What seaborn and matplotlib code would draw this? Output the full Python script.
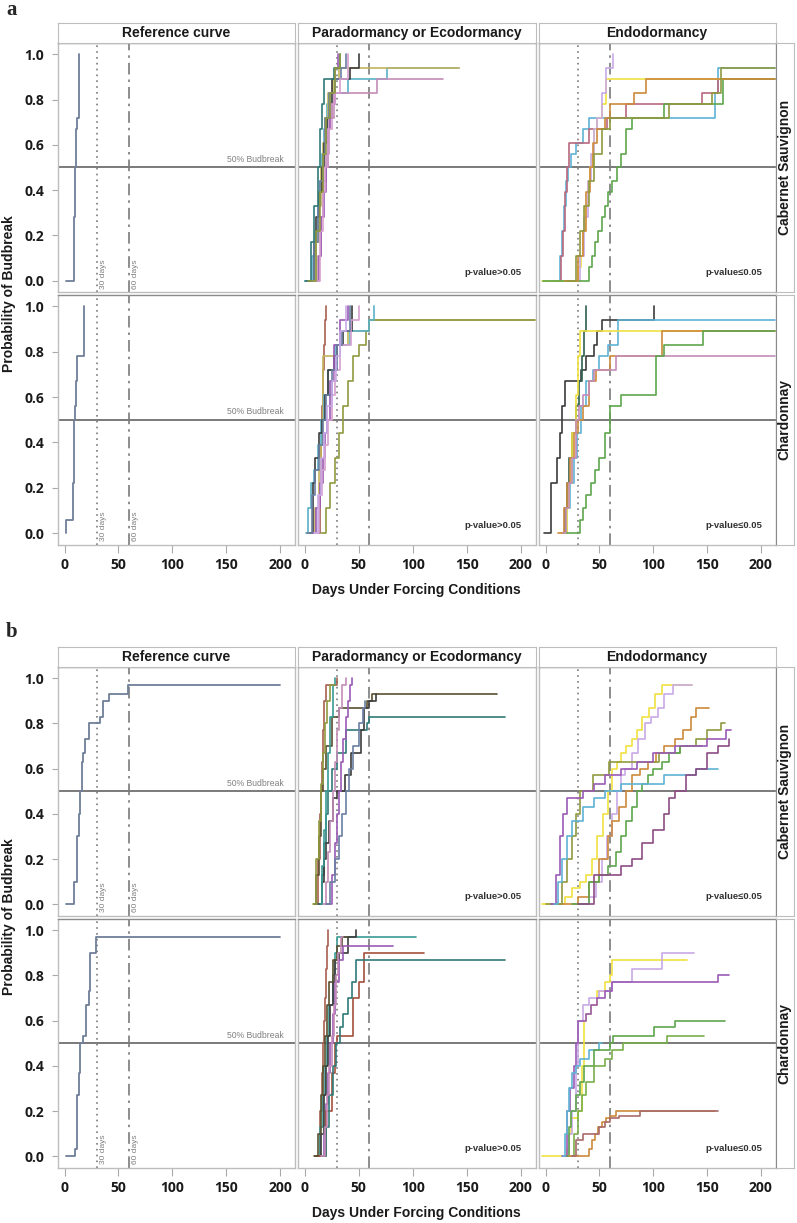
import pandas as pd
import seaborn as sns
import matplotlib.pyplot as plt

sns.set_style("white")
plt.rcParams["font.family"] = ["Liberation Sans", "DejaVu Sans"]

# ---- data: (curve, days, cumulative probability of budbreak) ----
# panel a
a_ref_cs = [("ref", [1, 9, 10, 11, 11.5, 13], [0, 0.28, 0.5, 0.67, 0.72, 1.0])]
a_ref_ch = [("ref", [1, 1.5, 7.5, 8, 8.5, 9, 10, 10.5, 11, 12, 18],
             [0, 0.06, 0.17, 0.22, 0.39, 0.5, 0.56, 0.61, 0.67, 0.78, 1.0])]

a_para_cs = [
    ("teal", [0, 7, 10, 12, 14, 16, 18, 21, 24, 40, 76, 143],
     [0, 0.11, 0.22, 0.33, 0.44, 0.56, 0.67, 0.78, 0.83, 0.89, 0.94, 0.94]),
    ("khaki", [2, 11, 13, 15, 17, 19, 22, 26, 32, 143],
     [0, 0.17, 0.33, 0.5, 0.61, 0.72, 0.83, 0.89, 0.94, 0.94]),
    ("mauve", [6, 12, 15, 17, 20, 23, 27, 67, 128],
     [0, 0.11, 0.28, 0.44, 0.56, 0.72, 0.83, 0.89, 0.89]),
    ("dark", [4, 9, 11, 13, 16, 18, 21, 25, 42, 50],
     [0, 0.17, 0.28, 0.39, 0.5, 0.61, 0.72, 0.89, 0.94, 1.0]),
    ("purple", [8, 13, 15, 18, 20, 22, 24, 28, 31],
     [0, 0.11, 0.28, 0.39, 0.5, 0.67, 0.78, 0.94, 1.0]),
    ("slate", [1, 9, 12, 14, 17, 19, 23, 28, 34, 38],
     [0, 0.17, 0.33, 0.44, 0.56, 0.72, 0.83, 0.89, 0.94, 1.0]),
    ("pink", [9, 14, 17, 19, 22, 25, 28, 33, 40],
     [0, 0.22, 0.39, 0.5, 0.67, 0.78, 0.83, 0.89, 1.0]),
    ("darkteal", [0, 6, 9, 12, 14, 16, 18, 27, 33],
     [0, 0.17, 0.33, 0.5, 0.67, 0.78, 0.89, 0.94, 1.0]),
    ("olive", [3, 11, 14, 17, 20, 24, 28, 33],
     [0, 0.22, 0.39, 0.56, 0.72, 0.83, 0.94, 1.0]),
]

a_endo_cs = [
    ("blue", [8, 13, 15, 17, 19, 21, 24, 28, 35, 40, 157, 160, 213],
     [0, 0.11, 0.22, 0.33, 0.44, 0.5, 0.56, 0.61, 0.67, 0.72, 0.83, 0.94, 0.94]),
    ("rose", [10, 14, 16, 18, 20, 22, 40, 57, 75, 145, 160, 213],
     [0, 0.11, 0.22, 0.39, 0.5, 0.61, 0.67, 0.72, 0.78, 0.83, 0.89, 0.89]),
    ("yellow", [-3, 30, 33, 35, 37, 39, 41, 43, 45, 48, 52, 56, 213],
     [0, 0.06, 0.11, 0.22, 0.33, 0.44, 0.5, 0.56, 0.67, 0.72, 0.78, 0.89, 0.89]),
    ("lavender", [25, 32, 36, 39, 42, 45, 48, 52, 56, 60, 63],
     [0, 0.11, 0.28, 0.44, 0.56, 0.67, 0.72, 0.83, 0.94, 0.94, 1.0]),
    ("green", [-2, 40, 43, 46, 49, 52, 55, 58, 62, 66, 70, 75, 80, 110, 165, 213],
     [0, 0.06, 0.11, 0.17, 0.22, 0.28, 0.33, 0.39, 0.44, 0.5, 0.56, 0.67, 0.72, 0.78, 0.89, 0.89]),
    ("orange", [18, 30, 35, 38, 41, 44, 48, 55, 60, 82, 93, 213],
     [0, 0.11, 0.22, 0.39, 0.5, 0.61, 0.67, 0.72, 0.78, 0.83, 0.89, 0.89]),
    ("olive", [20, 28, 32, 36, 40, 45, 52, 60, 115, 155, 163, 213],
     [0, 0.11, 0.22, 0.33, 0.44, 0.56, 0.67, 0.72, 0.78, 0.83, 0.94, 0.94]),
]

a_para_ch = [
    ("brown", [10, 14, 15, 16, 17, 18, 19, 20],
     [0, 0.22, 0.39, 0.56, 0.72, 0.83, 0.94, 1.0]),
    ("khaki", [3, 10, 13, 15, 16, 17, 26, 30, 40, 55, 60, 213],
     [0, 0.11, 0.28, 0.39, 0.5, 0.78, 0.78, 0.83, 0.89, 0.89, 0.94, 0.94]),
    ("olive", [15, 20, 24, 28, 32, 36, 40, 45, 50, 57, 60, 213],
     [0, 0.11, 0.22, 0.33, 0.44, 0.56, 0.67, 0.78, 0.83, 0.89, 0.94, 0.94]),
    ("teal", [1, 3, 6, 9, 12, 15, 18, 22, 28, 42, 60, 64],
     [0, 0.11, 0.22, 0.28, 0.39, 0.5, 0.61, 0.72, 0.83, 0.89, 0.94, 1.0]),
    ("dark", [5, 8, 10, 13, 16, 19, 22, 27, 30, 36, 44],
     [0, 0.22, 0.33, 0.44, 0.5, 0.61, 0.72, 0.78, 0.83, 0.89, 1.0]),
    ("purple", [8, 11, 14, 17, 19, 21, 24, 27, 33, 40],
     [0, 0.11, 0.22, 0.33, 0.44, 0.5, 0.67, 0.83, 0.94, 1.0]),
    ("pink", [10, 13, 16, 19, 22, 25, 28, 33, 43, 50],
     [0, 0.17, 0.28, 0.39, 0.5, 0.61, 0.72, 0.83, 0.94, 1.0]),
    ("slate", [2, 7, 10, 13, 17, 20, 25, 30, 35, 42],
     [0, 0.17, 0.28, 0.39, 0.5, 0.61, 0.72, 0.83, 0.89, 1.0]),
    ("lavender", [9, 12, 15, 18, 21, 25, 29, 33, 38],
     [0, 0.17, 0.33, 0.44, 0.56, 0.67, 0.78, 0.89, 1.0]),
]

a_endo_ch = [
    ("dark", [-1, 5, 11, 13, 15, 18, 33, 38, 45, 48, 52, 56, 101],
     [0, 0.22, 0.33, 0.44, 0.56, 0.67, 0.72, 0.78, 0.83, 0.89, 0.94, 0.94, 1.0]),
    ("darkgreen", [15, 18, 20, 22, 25, 28, 31, 34, 36, 38],
     [0, 0.11, 0.22, 0.33, 0.44, 0.56, 0.67, 0.78, 0.89, 1.0]),
    ("blue", [17, 20, 23, 26, 29, 33, 38, 44, 50, 58, 67, 213],
     [0, 0.11, 0.22, 0.33, 0.44, 0.56, 0.67, 0.72, 0.78, 0.83, 0.94, 0.94]),
    ("yellow", [14, 20, 22, 25, 28, 30, 32, 213],
     [0, 0.11, 0.22, 0.44, 0.61, 0.78, 0.89, 0.89]),
    ("orange", [12, 17, 20, 23, 26, 30, 35, 40, 47, 60, 73, 108, 213],
     [0, 0.11, 0.22, 0.33, 0.44, 0.5, 0.56, 0.67, 0.72, 0.78, 0.78, 0.89, 0.89]),
    ("mauve", [16, 19, 22, 25, 28, 31, 35, 40, 45, 52, 65, 213],
     [0, 0.11, 0.22, 0.33, 0.5, 0.56, 0.61, 0.67, 0.72, 0.72, 0.78, 0.78]),
    ("green", [20, 32, 35, 38, 42, 46, 50, 55, 60, 70, 103, 110, 146, 213],
     [0, 0.06, 0.11, 0.17, 0.22, 0.28, 0.33, 0.44, 0.56, 0.61, 0.78, 0.83, 0.89, 0.89]),
]

# panel b
b_ref_cs = [("ref", [1, 9, 12, 13, 14, 16, 17, 19, 23, 33, 36, 41, 59, 200],
             [0, 0.1, 0.3, 0.4, 0.5, 0.63, 0.67, 0.73, 0.8, 0.83, 0.9, 0.93, 0.97, 0.97])]
b_ref_ch = [("ref", [1, 10, 12, 13, 14, 17, 20, 23, 24, 29, 200],
             [0, 0.03, 0.27, 0.37, 0.5, 0.53, 0.67, 0.73, 0.9, 0.97, 0.97])]

b_para_cs = [
    ("brown", [9, 12, 14, 15, 16, 17, 18, 20, 26, 30],
     [0, 0.2, 0.4, 0.5, 0.63, 0.77, 0.9, 0.97, 0.97, 1.0]),
    ("darkolive", [9, 11, 13, 15, 17, 20, 25, 32, 50, 58, 62, 178],
     [0, 0.13, 0.3, 0.5, 0.6, 0.7, 0.83, 0.87, 0.87, 0.9, 0.93, 0.93]),
    ("darkteal", [12, 16, 18, 20, 22, 25, 30, 38, 52, 58, 60, 185],
     [0, 0.13, 0.27, 0.4, 0.5, 0.6, 0.67, 0.77, 0.77, 0.8, 0.83, 0.83]),
    ("dark", [13, 16, 18, 20, 23, 26, 30, 37, 43, 52, 55, 60, 66],
     [0, 0.1, 0.2, 0.27, 0.37, 0.47, 0.5, 0.57, 0.67, 0.77, 0.87, 0.9, 0.93]),
    ("purple", [20, 25, 28, 30, 32, 34, 36, 38, 40, 42, 44],
     [0, 0.13, 0.27, 0.4, 0.5, 0.63, 0.73, 0.83, 0.9, 0.97, 1.0]),
    ("mauve", [17, 20, 22, 24, 26, 28, 30, 32, 35, 38],
     [0, 0.1, 0.23, 0.37, 0.5, 0.63, 0.77, 0.87, 0.97, 1.0]),
    ("slate", [20, 24, 28, 32, 35, 38, 41, 45, 50, 54, 56],
     [0, 0.1, 0.2, 0.3, 0.4, 0.5, 0.6, 0.7, 0.8, 0.87, 0.9]),
    ("seagreen", [14, 16, 18, 20, 22, 24, 26, 28],
     [0, 0.17, 0.33, 0.5, 0.67, 0.83, 0.97, 1.0]),
    ("olive", [8, 11, 13, 15, 17, 19, 21, 24, 28],
     [0, 0.2, 0.37, 0.53, 0.67, 0.8, 0.9, 0.97, 0.97]),
]

b_endo_cs = [
    ("yellow", [-3, 18, 25, 32, 38, 43, 48, 53, 58, 62, 66, 70, 75, 80, 85, 90, 96, 102, 108, 136],
     [0, 0.03, 0.07, 0.1, 0.13, 0.2, 0.3, 0.4, 0.5, 0.6, 0.63, 0.67, 0.7, 0.73, 0.77, 0.83, 0.87, 0.93, 0.97, 0.97]),
    ("lavender", [30, 40, 47, 52, 57, 62, 66, 70, 74, 80, 86, 92, 98, 104, 110, 118, 136],
     [0, 0.03, 0.1, 0.2, 0.3, 0.4, 0.5, 0.57, 0.6, 0.67, 0.73, 0.8, 0.83, 0.87, 0.93, 0.97, 0.97]),
    ("orange", [5, 30, 40, 50, 58, 62, 68, 75, 80, 88, 95, 103, 110, 120, 128, 135, 140, 152],
     [0, 0.03, 0.1, 0.2, 0.3, 0.37, 0.43, 0.5, 0.57, 0.6, 0.63, 0.67, 0.7, 0.73, 0.77, 0.83, 0.87, 0.87]),
    ("olive", [0, 15, 20, 25, 28, 32, 44, 59, 105, 125, 140, 150, 163, 167],
     [0, 0.1, 0.2, 0.3, 0.4, 0.5, 0.57, 0.63, 0.67, 0.7, 0.73, 0.77, 0.8, 0.8]),
    ("green", [25, 40, 50, 58, 65, 70, 75, 80, 85, 90, 95, 100, 108, 115, 125, 145],
     [0, 0.1, 0.13, 0.17, 0.23, 0.3, 0.37, 0.43, 0.5, 0.53, 0.57, 0.6, 0.63, 0.67, 0.7, 0.7]),
    ("purple", [5, 10, 13, 16, 20, 35, 45, 55, 70, 85, 100, 120, 135, 150, 160, 168, 172],
     [0, 0.13, 0.3, 0.4, 0.47, 0.5, 0.53, 0.57, 0.6, 0.63, 0.67, 0.7, 0.7, 0.73, 0.73, 0.77, 0.77]),
    ("blue", [8, 12, 15, 20, 25, 35, 45, 55, 70, 90, 110, 130, 140, 160],
     [0, 0.1, 0.2, 0.3, 0.37, 0.43, 0.47, 0.5, 0.53, 0.53, 0.57, 0.57, 0.6, 0.6]),
    ("plum", [30, 45, 55, 60, 70, 80, 90, 100, 110, 115, 120, 130, 140, 150, 160, 170],
     [0, 0.13, 0.13, 0.13, 0.17, 0.2, 0.27, 0.33, 0.4, 0.47, 0.5, 0.57, 0.6, 0.67, 0.7, 0.73]),
]

b_para_ch = [
    ("brown", [10, 14, 16, 17, 18, 19, 20, 21, 22],
     [0, 0.2, 0.37, 0.5, 0.6, 0.7, 0.83, 0.93, 1.0]),
    ("seagreen", [10, 14, 17, 19, 21, 23, 26, 28, 30, 103],
     [0, 0.13, 0.27, 0.4, 0.53, 0.67, 0.8, 0.9, 0.97, 0.97]),
    ("dark", [12, 15, 18, 20, 22, 24, 26, 28, 32, 40, 48],
     [0, 0.1, 0.27, 0.4, 0.53, 0.67, 0.77, 0.87, 0.9, 0.97, 1.0]),
    ("purple", [14, 18, 20, 22, 24, 26, 28, 32, 36, 82],
     [0, 0.1, 0.23, 0.37, 0.5, 0.63, 0.77, 0.87, 0.93, 0.93]),
    ("rust", [10, 20, 25, 28, 30, 38, 45, 50, 55, 110],
     [0, 0.2, 0.37, 0.5, 0.53, 0.53, 0.7, 0.77, 0.9, 0.9]),
    ("darkteal", [16, 20, 23, 26, 29, 33, 36, 40, 44, 48, 185],
     [0, 0.13, 0.27, 0.4, 0.5, 0.57, 0.63, 0.7, 0.77, 0.87, 0.87]),
    ("darkolive", [9, 12, 15, 17, 19, 21, 23, 26, 30, 35, 40],
     [0, 0.1, 0.27, 0.4, 0.53, 0.67, 0.77, 0.87, 0.93, 0.97, 0.97]),
    ("mauve", [15, 19, 21, 23, 25, 27, 29, 31, 34, 36],
     [0, 0.13, 0.27, 0.4, 0.53, 0.67, 0.8, 0.9, 0.97, 0.97]),
]

b_endo_ch = [
    ("yellow", [-3, 20, 22, 24, 30, 34, 36, 38, 42, 48, 55, 60, 62, 131],
     [0, 0.03, 0.1, 0.17, 0.2, 0.4, 0.6, 0.63, 0.67, 0.73, 0.77, 0.8, 0.87, 0.87]),
    ("lavender", [18, 22, 25, 28, 30, 35, 40, 50, 62, 80, 108, 138],
     [0, 0.1, 0.2, 0.4, 0.6, 0.67, 0.7, 0.73, 0.77, 0.83, 0.9, 0.9]),
    ("purple", [15, 20, 23, 26, 28, 30, 38, 42, 48, 55, 62, 160, 170],
     [0, 0.2, 0.3, 0.4, 0.5, 0.6, 0.63, 0.67, 0.7, 0.73, 0.77, 0.8, 0.8]),
    ("blue", [16, 18, 20, 22, 25, 28, 32, 40, 50, 52],
     [0, 0.1, 0.2, 0.3, 0.37, 0.4, 0.43, 0.47, 0.5, 0.5]),
    ("green", [20, 22, 24, 28, 32, 36, 45, 60, 63, 101, 120, 167],
     [0, 0.13, 0.2, 0.27, 0.33, 0.4, 0.47, 0.5, 0.53, 0.57, 0.6, 0.6]),
    ("lime", [22, 26, 30, 34, 38, 45, 55, 62, 72, 113, 147],
     [0, 0.1, 0.2, 0.27, 0.33, 0.4, 0.43, 0.47, 0.5, 0.53, 0.53]),
    ("orange", [22, 40, 43, 46, 49, 52, 56, 60, 65, 157],
     [0, 0.03, 0.07, 0.1, 0.13, 0.15, 0.17, 0.18, 0.2, 0.2]),
    ("rosybrown", [25, 28, 35, 50, 55, 60, 68, 88, 160],
     [0, 0.07, 0.1, 0.13, 0.15, 0.17, 0.18, 0.2, 0.2]),
]

col_titles = ["Reference curve", "Paradormancy or Ecodormancy", "Endodormancy"]
row_titles = ["Cabernet Sauvignon", "Chardonnay"]
p_labels = [None, "p-value>0.05", "p-value\u22640.05"]
x_ticks = [0, 50, 100, 150, 200]
y_ticks = [0.0, 0.2, 0.4, 0.6, 0.8, 1.0]

colors = {
    "ref": "#6f7f99", "teal": "#5ab0c8", "khaki": "#c2b45c", "mauve": "#c48cb8",
    "dark": "#3c3c3c", "purple": "#9b5bb5", "slate": "#6a7fa3", "pink": "#d79fcf",
    "darkteal": "#2f7a78", "olive": "#8f9a3e", "blue": "#5fb3d6", "rose": "#b8687e",
    "yellow": "#f0e040", "lavender": "#c9a9e6", "green": "#5fa54e", "orange": "#cc8a3c",
    "brown": "#a8604f", "darkgreen": "#2f5f4f", "darkolive": "#5a5030", "seagreen": "#3a9a94",
    "rust": "#a4503c", "lime": "#7aae4a", "rosybrown": "#a86a6a", "plum": "#8c4c84",
}

panels = {
    "a": [[a_ref_cs, a_para_cs, a_endo_cs], [a_ref_ch, a_para_ch, a_endo_ch]],
    "b": [[b_ref_cs, b_para_cs, b_endo_cs], [b_ref_ch, b_para_ch, b_endo_ch]],
}


def to_frame(curves):
    rows = []
    for name, days, probs in curves:
        for d, p in zip(days, probs):
            rows.append((name, d, p))
    return pd.DataFrame(rows, columns=["curve", "day", "prob"])


# ---- layout (pixel boxes) ----
W, H = 797, 1223
col_x = [(57.5, 295), (297.5, 535.5), (538.5, 775.5)]
layout = {
    "a": dict(strip=(23, 42.5), rows=[(43, 292), (295, 544.5)], label_y=10, xlab_y=590, ylab_y=294),
    "b": dict(strip=(647, 666.5), rows=[(667, 915.5), (919, 1167.5)], label_y=632, xlab_y=1213, ylab_y=917),
}
frame = "#bdbdbd"
ref_grey = "#7a7a7a"


def rect(x0, x1, y0, y1):
    return [x0 / W, 1 - y1 / H, (x1 - x0) / W, (y1 - y0) / H]


def bold_ticks(labels):
    for t in labels:
        t.set_fontfamily("Open Sans")
        t.set_fontweight("bold")
        t.set_fontsize(10)
        t.set_color("#1a1a1a")


fig = plt.figure(figsize=(W / 100, H / 100), dpi=100)

for key, grid in panels.items():
    lay = layout[key]
    for r in range(2):
        for c in range(3):
            ax = fig.add_axes(rect(*col_x[c], *lay["rows"][r]))
            df = to_frame(grid[r][c])
            pal = {k: colors[k] for k in df["curve"].unique()}
            ax.axhline(0.5, color=ref_grey, lw=1.4, zorder=1)
            ax.axvline(30, color=ref_grey, lw=1.2, ls=(0, (1, 2.5)), zorder=1)
            ax.axvline(60, color=ref_grey, lw=1.2, ls=(0, (7, 3, 1.5, 3)), zorder=1)
            sns.lineplot(data=df, x="day", y="prob", hue="curve", palette=pal,
                         estimator=None, sort=False, drawstyle="steps-post",
                         linewidth=1.2 if c else 1.3, legend=False, ax=ax, zorder=2)
            ax.set_xlim(-6.5, 213.5)
            ax.set_ylim(-0.05, 1.05)
            ax.set_xlabel("")
            ax.set_ylabel("")
            for s in ax.spines.values():
                s.set_color(frame)
                s.set_linewidth(1)
            ax.spines["top"].set_color("#8a8a8a")

            ax.set_yticks(y_ticks)
            if c == 0:
                ax.set_yticklabels([f"{v:.1f}" for v in y_ticks])
                ax.tick_params(axis="y", left=True, length=4, color="#aaaaaa", pad=5.5)
                bold_ticks(ax.get_yticklabels())
            else:
                ax.tick_params(axis="y", left=False, labelleft=False)

            ax.set_xticks(x_ticks)
            if r == 1:
                ax.set_xticklabels([str(v) for v in x_ticks])
                ax.tick_params(axis="x", bottom=True, length=6, color="#aaaaaa", pad=4)
                bold_ticks(ax.get_xticklabels())
            else:
                ax.tick_params(axis="x", bottom=False, labelbottom=False)

            if c == 0:
                ax.text(203, 0.515, "50% Budbreak", ha="right", va="bottom",
                        fontsize=6.2, color="#808080")
                ax.text(32.5, -0.035, "30 days", rotation=90, ha="left", va="bottom",
                        fontsize=6, color="#808080")
                ax.text(62.5, -0.035, "60 days", rotation=90, ha="left", va="bottom",
                        fontsize=6, color="#808080")
            else:
                ax.text(201, 0.035, p_labels[c], ha="right", va="center", fontsize=6.8,
                        fontweight="bold", color="#333333",
                        family=["Liberation Sans", "DejaVu Sans"])

        # row strip
        sx = fig.add_axes(rect(776, 793.5, *lay["rows"][r]))
        sx.set_xticks([])
        sx.set_yticks([])
        for s in sx.spines.values():
            s.set_color(frame)
        sx.spines["left"].set_color("#8a8a8a")
        sx.text(0.5, 0.5, row_titles[r], rotation=90, ha="center", va="center",
                fontsize=10, fontweight="bold", color="#1a1a1a", transform=sx.transAxes)

    # column strips
    for c in range(3):
        sx = fig.add_axes(rect(*col_x[c], *lay["strip"]))
        sx.set_xticks([])
        sx.set_yticks([])
        for s in sx.spines.values():
            s.set_color(frame)
        sx.text(0.5, 0.5, col_titles[c], ha="center", va="center", fontsize=10,
                fontweight="bold", color="#1a1a1a", transform=sx.transAxes)

    fig.text(416 / W, 1 - lay["xlab_y"] / H, "Days Under Forcing Conditions",
             ha="center", va="center", fontsize=10, fontweight="bold", color="#1a1a1a")
    fig.text(9 / W, 1 - lay["ylab_y"] / H, "Probability of Budbreak", rotation=90,
             ha="center", va="center", fontsize=10, fontweight="bold", color="#1a1a1a")
    fig.text(6 / W, 1 - lay["label_y"] / H, key, ha="left", va="center", fontsize=15,
             fontweight="bold", family="Liberation Serif")

fig.savefig("out.png", dpi=100)
